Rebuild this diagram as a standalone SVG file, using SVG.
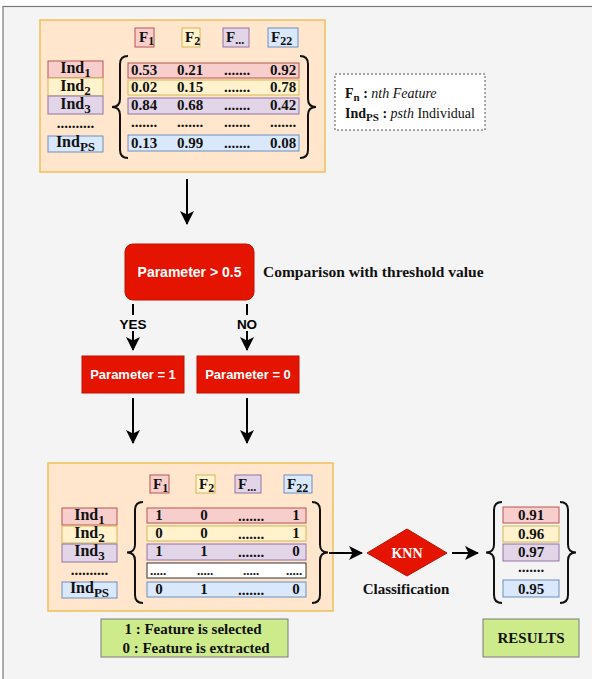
<svg xmlns="http://www.w3.org/2000/svg" width="592" height="679" viewBox="0 0 592 679">
<defs>
<marker id="ah" markerUnits="userSpaceOnUse" markerWidth="14" markerHeight="14" refX="13" refY="7" orient="auto">
<path d="M0,0 L14,7 L0,14 L3.5,7 Z" fill="#000"/>
</marker>
<style>
.t{font-family:"Liberation Serif","Times New Roman",serif;font-weight:bold;fill:#111}
.s{font-family:"Liberation Sans",Arial,sans-serif;font-weight:bold}
.w{fill:#fff}
.r{fill:#f8cecc;stroke:#b85450}
.y{fill:#fff2cc;stroke:#d6b656}
.p{fill:#e1d5e7;stroke:#9673a6}
.b{fill:#dae8fc;stroke:#6c8ebf}
.box{fill:#ffe6cc;stroke:#f0bf5a;stroke-width:1.5}
.red{fill:#e51400;stroke:#c01000}
.grn{fill:#cdeb8b;stroke:#7a7a7a}
.br{fill:none;stroke:#111;stroke-width:2}
.ln{stroke:#000;stroke-width:2;fill:none}
</style>
</defs>
<rect x="0" y="0" width="592" height="679" fill="#fff"/>
<rect x="3" y="6.5" width="600" height="680" fill="#f4f4f4" stroke="#777" stroke-width="1.2"/>

<g id="input-matrix">
<rect class="box" x="40" y="20" width="285" height="152"/>
<rect class="r" x="135" y="28" width="19" height="19"/>
<rect class="y" x="182" y="28" width="18" height="19"/>
<rect class="p" x="223" y="28" width="26" height="19"/>
<rect class="b" x="268" y="28" width="30" height="19"/>
<text class="t" font-size="15" x="139" y="42">F<tspan font-size="12" dy="3">1</tspan></text>
<text class="t" font-size="15" x="185" y="42">F<tspan font-size="12" dy="3">2</tspan></text>
<text class="t" font-size="15" x="226" y="42">F<tspan font-size="12" dy="2">...</tspan></text>
<text class="t" font-size="15" x="271" y="42">F<tspan font-size="12" dy="3">22</tspan></text>

<rect class="r" x="48" y="61" width="55" height="17"/>
<rect class="y" x="48" y="78" width="55" height="18"/>
<rect class="p" x="48" y="96" width="55" height="18"/>
<rect class="b" x="48" y="136" width="55" height="16"/>
<text class="t" font-size="16" x="75.5" y="73" text-anchor="middle">Ind<tspan font-size="13" dy="4">1</tspan></text>
<text class="t" font-size="16" x="75.5" y="91" text-anchor="middle">Ind<tspan font-size="13" dy="4">2</tspan></text>
<text class="t" font-size="16" x="75.5" y="109" text-anchor="middle">Ind<tspan font-size="13" dy="4">3</tspan></text>
<text class="t" font-size="15" x="75.5" y="128" text-anchor="middle">..........</text>
<text class="t" font-size="16" x="75.5" y="147" text-anchor="middle">Ind<tspan font-size="13" dy="4">PS</tspan></text>

<path class="br" d="M128,56 Q120,56 120,64 L120,99 Q120,107 112,107 Q120,107 120,115 L120,150 Q120,158 128,158"/>
<path class="br" d="M300,56 Q308,56 308,64 L308,99 Q308,107 316,107 Q308,107 308,115 L308,150 Q308,158 300,158"/>

<rect class="r" x="128" y="63" width="171" height="15"/>
<rect class="y" x="128" y="80" width="171" height="15"/>
<rect class="p" x="128" y="98" width="171" height="16"/>
<rect class="b" x="128" y="135" width="171" height="16"/>
<g class="t" font-size="15" text-anchor="middle">
<text x="144" y="75">0.53</text><text x="190" y="75">0.21</text><text x="237" y="75">.......</text><text x="283" y="75">0.92</text>
<text x="144" y="92">0.02</text><text x="190" y="92">0.15</text><text x="237" y="92">.......</text><text x="283" y="92">0.78</text>
<text x="144" y="110">0.84</text><text x="190" y="110">0.68</text><text x="237" y="110">.......</text><text x="283" y="110">0.42</text>
<text x="144" y="127">.......</text><text x="190" y="127">.......</text><text x="237" y="127">.......</text><text x="283" y="127">.......</text>
<text x="144" y="148">0.13</text><text x="190" y="148">0.99</text><text x="237" y="148">.......</text><text x="283" y="148">0.08</text>
</g>
</g>

<g id="legend">
<rect x="335" y="74" width="150" height="56" fill="#fff" stroke="#555" stroke-dasharray="2,2"/>
<text class="t" font-size="14" x="345" y="98">F<tspan font-size="11" dy="3">n</tspan><tspan dy="-3"> : </tspan><tspan font-style="italic" font-weight="normal">nth Feature</tspan></text>
<text class="t" font-size="14" x="345" y="118">Ind<tspan font-size="11" dy="3">PS</tspan><tspan dy="-3"> : </tspan><tspan font-style="italic" font-weight="normal">psth</tspan><tspan font-weight="normal"> Individual</tspan></text>
</g>

<g id="threshold">
<rect class="red" x="125" y="244" width="129" height="56" rx="8"/>
<text class="s w" font-size="14" x="189.5" y="277" text-anchor="middle">Parameter &gt; 0.5</text>
</g>
<text id="threshold-label" class="t" font-size="15.5" x="263" y="277">Comparison with threshold value</text>

<g id="param1">
<rect class="red" x="82" y="356" width="102" height="37"/>
<text class="s w" font-size="13" x="133" y="379" text-anchor="middle">Parameter = 1</text>
</g>
<g id="param0">
<rect class="red" x="197" y="356" width="102" height="37"/>
<text class="s w" font-size="13" x="248" y="379" text-anchor="middle">Parameter = 0</text>
</g>

<g id="binary-matrix">
<rect class="box" x="48" y="463" width="285" height="148"/>
<rect class="r" x="150" y="475" width="19" height="18"/>
<rect class="y" x="196" y="475" width="19" height="18"/>
<rect class="p" x="235" y="475" width="26" height="18"/>
<rect class="b" x="284" y="475" width="28" height="18"/>
<text class="t" font-size="15" x="153" y="489">F<tspan font-size="12" dy="3">1</tspan></text>
<text class="t" font-size="15" x="199" y="489">F<tspan font-size="12" dy="3">2</tspan></text>
<text class="t" font-size="15" x="238" y="489">F<tspan font-size="12" dy="2">...</tspan></text>
<text class="t" font-size="15" x="287" y="489">F<tspan font-size="12" dy="3">22</tspan></text>

<rect class="r" x="62" y="508" width="55" height="17"/>
<rect class="y" x="62" y="526" width="55" height="17"/>
<rect class="p" x="62" y="544" width="55" height="18"/>
<rect class="b" x="62" y="582" width="55" height="16"/>
<text class="t" font-size="16" x="89.5" y="520" text-anchor="middle">Ind<tspan font-size="13" dy="4">1</tspan></text>
<text class="t" font-size="16" x="89.5" y="538" text-anchor="middle">Ind<tspan font-size="13" dy="4">2</tspan></text>
<text class="t" font-size="16" x="89.5" y="556" text-anchor="middle">Ind<tspan font-size="13" dy="4">3</tspan></text>
<text class="t" font-size="15" x="89.5" y="575" text-anchor="middle">..........</text>
<text class="t" font-size="16" x="89.5" y="593" text-anchor="middle">Ind<tspan font-size="13" dy="4">PS</tspan></text>

<path class="br" d="M143,502 Q135,502 135,510 L135,544.5 Q135,552.5 127,552.5 Q135,552.5 135,560.5 L135,595 Q135,603 143,603"/>
<path class="br" d="M312,502 Q320,502 320,510 L320,544.5 Q320,552.5 328,552.5 Q320,552.5 320,560.5 L320,595 Q320,603 312,603"/>

<rect class="r" x="147" y="508" width="159" height="15"/>
<rect class="y" x="147" y="526" width="159" height="15"/>
<rect class="p" x="147" y="544" width="159" height="16"/>
<rect x="147" y="563" width="159" height="15" fill="#fff" stroke="#333"/>
<rect class="b" x="147" y="582" width="159" height="15"/>
<g class="t" font-size="15" text-anchor="middle">
<text x="159" y="520">1</text><text x="204" y="520">0</text><text x="251" y="521">.......</text><text x="296" y="520">1</text>
<text x="159" y="538">0</text><text x="204" y="538">0</text><text x="251" y="539">.......</text><text x="296" y="538">1</text>
<text x="159" y="556">1</text><text x="204" y="556">1</text><text x="251" y="557">.......</text><text x="296" y="556">0</text>
<text x="159" y="594">0</text><text x="204" y="594">1</text><text x="251" y="595">.......</text><text x="296" y="594">0</text>
</g>
<g class="t" font-size="13" text-anchor="middle">
<text x="158" y="575">.....</text><text x="205" y="575">.....</text><text x="251" y="575">.....</text><text x="294" y="575">.....</text>
</g>
</g>

<g id="knn">
<polygon class="red" points="407,529 447,553 407,576 367,553"/>
<text class="t" font-size="14" x="407" y="558" text-anchor="middle" style="fill:#fff">KNN</text>
</g>
<text id="knn-label" class="t" font-size="15" x="406" y="594" text-anchor="middle">Classification</text>

<g id="results-vector">
<path class="br" d="M502,502 Q494,502 494,510 L494,544.5 Q494,552.5 486,552.5 Q494,552.5 494,560.5 L494,595 Q494,603 502,603"/>
<path class="br" d="M560,502 Q568,502 568,510 L568,544.5 Q568,552.5 576,552.5 Q568,552.5 568,560.5 L568,595 Q568,603 560,603"/>
<rect class="r" x="503" y="507" width="56" height="16"/>
<rect class="y" x="503" y="526" width="56" height="16"/>
<rect class="p" x="503" y="544" width="56" height="17"/>
<rect class="b" x="503" y="580" width="56" height="17"/>
<g class="t" font-size="15" text-anchor="middle">
<text x="531" y="520">0.91</text><text x="531" y="539">0.96</text><text x="531" y="557">0.97</text><text x="531" y="572">.......</text><text x="531" y="594">0.95</text>
</g>
</g>

<g id="legend-binary">
<rect class="grn" x="101" y="619" width="187" height="38"/>
<text class="t" font-size="15" x="193" y="634" text-anchor="middle">1 : Feature is selected</text>
<text class="t" font-size="15" x="196" y="653" text-anchor="middle">0 : Feature is extracted</text>
</g>
<g id="results">
<rect class="grn" x="483" y="619" width="96" height="38"/>
<text class="t" font-size="15" x="531" y="643" text-anchor="middle">RESULTS</text>
</g>

<g id="connectors">
<line class="ln" x1="187" y1="179" x2="187" y2="224" marker-end="url(#ah)"/>
<line class="ln" x1="133" y1="304" x2="133" y2="315"/>
<line class="ln" x1="247" y1="304" x2="247" y2="315"/>
<text class="s" font-size="13.5" x="133" y="329" text-anchor="middle">YES</text>
<text class="s" font-size="13.5" x="247" y="329" text-anchor="middle">NO</text>
<line class="ln" x1="133" y1="331" x2="133" y2="350" marker-end="url(#ah)"/>
<line class="ln" x1="247" y1="331" x2="247" y2="350" marker-end="url(#ah)"/>
<line class="ln" x1="133" y1="398" x2="133" y2="443" marker-end="url(#ah)"/>
<line class="ln" x1="247" y1="398" x2="247" y2="443" marker-end="url(#ah)"/>
<line class="ln" x1="329" y1="553" x2="362" y2="553" marker-end="url(#ah)"/>
<line class="ln" x1="452" y1="553" x2="478" y2="553" marker-end="url(#ah)"/>
</g>
</svg>
